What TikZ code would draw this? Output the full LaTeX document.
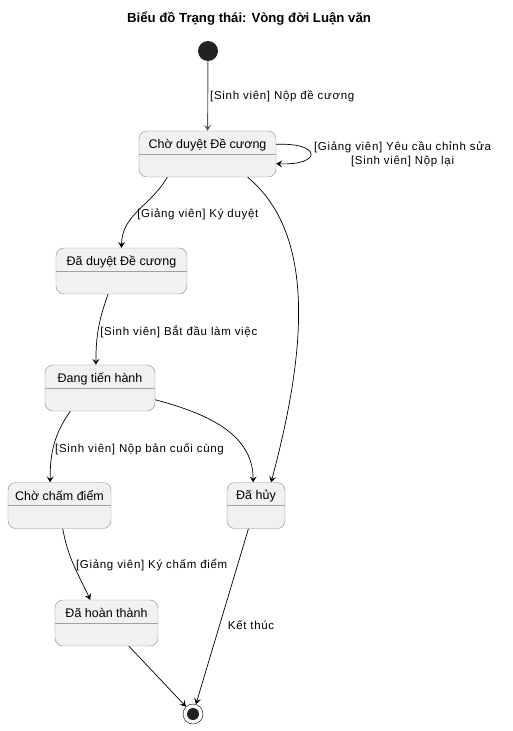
\documentclass[tikz,border=0pt]{standalone}
\usepackage{fontspec}
\setmainfont{Liberation Sans}
\newfontfamily\lblfont[LetterSpace=6]{Liberation Sans}
\usetikzlibrary{arrows.meta}
\definecolor{statefill}{HTML}{F1F1F1}
\definecolor{stateline}{HTML}{8A8A8A}
\definecolor{dotfill}{HTML}{222222}
\begin{document}
\begin{tikzpicture}[x=1pt,y=-1pt,
    state/.style={draw=stateline,fill=statefill,rounded corners=8pt,
      minimum height=46pt,inner sep=0pt,align=center,
      font=\fontsize{12.5}{14}\selectfont,
      path picture={\draw[stateline!80]
        ([yshift=-23pt]path picture bounding box.north west) --
        ([yshift=-23pt]path picture bounding box.north east);}},
    startdot/.style={circle,fill=dotfill,minimum size=20pt,inner sep=0pt},
    enddot/.style={circle,draw=black,fill=white,minimum size=20pt,inner sep=0pt,
      path picture={\fill[dotfill] (path picture bounding box.center) circle (6pt);}},
    lbl/.style={font=\lblfont\fontsize{11.5}{14}\selectfont,text=black,inner sep=2pt,align=center},
    tip/.style={-{Stealth[length=6pt,width=7pt,inset=2.5pt]}},
    every edge/.style={draw,tip}]
  \useasboundingbox (0,0) rectangle (512,731);
  \draw
    (249,19) node[font=\bfseries\fontsize{13.2}{16}\selectfont] (title){Biểu đồ Trạng thái: Vòng đời Luận văn}
    (208,51) node[startdot] (start){}
    (207.5,154) node[state,minimum width=137pt] (s1){Chờ duyệt Đề cương\\[7pt]}
    (121.5,271) node[state,minimum width=131pt] (s2){Đã duyệt Đề cương\\[7pt]}
    (100,388) node[state,minimum width=110pt] (s3){Đang tiến hành\\[7pt]}
    (59.5,505.5) node[state,minimum width=103pt] (s4){Chờ chấm điểm\\[7pt]}
    (256,505.5) node[state,minimum width=58pt] (s5){Đã hủy\\[7pt]}
    (106.5,623) node[state,minimum width=103pt] (s6){Đã hoàn thành\\[7pt]}
    (193,714) node[enddot] (end){};
  \begin{scope}[black,line width=0.7pt]
    \draw (start) edge[black!65,line width=0.9pt] node[lbl,right] {[Sinh viên] Nộp đề cương} (s1);
    \draw[tip] (s1.8) .. controls +(46,-2) and +(46,2) .. node[lbl,right=1pt] {[Giảng viên] Yêu cầu chỉnh sửa\\{}[Sinh viên] Nộp lại} (s1.-8);
    \draw (s1.-150) edge[out=-120,in=90] node[lbl,right,pos=0.56] {[Giảng viên] Ký duyệt} (s2.north);
    \draw[tip] (s1.-30) .. controls +(40:88) and +(-75:140) .. (s5.57);
    \draw (s2.-120) edge[out=-110,in=90] node[lbl,right,pos=0.55] {[Sinh viên] Bắt đầu làm việc} (s3.100);
    \draw (s3.-142) edge[out=-125,in=90] node[lbl,right,pos=0.57] {[Sinh viên] Nộp bản cuối cùng} (s4.112);
    \draw (s3.-12) edge[out=-15,in=90] (s5.97);
    \draw (s4.-82) edge[out=-80,in=115] node[lbl,right,pos=0.5] {[Giảng viên] Ký chấm điểm} (s6.125);
    \draw (s6.-46) edge (end);
    \draw (s5.-108) edge node[lbl,right,pos=0.55,xshift=6pt] {Kết thúc} (end);
  \end{scope}
\end{tikzpicture}
\end{document}
